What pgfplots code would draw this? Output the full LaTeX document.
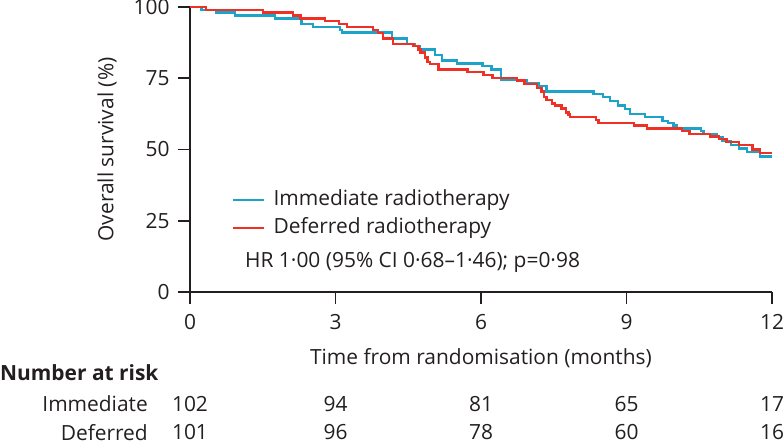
\documentclass[border=0pt]{standalone}
\usepackage{pgfplots}
\pgfplotsset{compat=1.18}
\usepackage{fontspec}
\setmainfont{Open Sans}
\definecolor{immblue}{HTML}{1BA3C9}
\definecolor{defred}{HTML}{EE3124}
\definecolor{axgray}{HTML}{231F20}
\newcommand{\fs}{\fontsize{21}{24}\selectfont}
\begin{document}
\begin{tikzpicture}
\useasboundingbox (-190bp,-153bp) rectangle (594bp,292bp);
\begin{axis}[
  at={(0,0)}, anchor=south west,
  scale only axis, width=582bp, height=285bp,
  xmin=0, xmax=12, ymin=0, ymax=100,
  axis lines=left, axis line style={-, line width=1.8bp, color=axgray},
  xtick={0,3,6,9,12}, ytick={0,25,50,75,100},
  tick align=outside, major tick length=12bp,
  tick style={line width=1.8bp, color=axgray},
  clip=false,
  /pgf/number format/assume math mode=true,
  ticklabel style={font=\fs, text=axgray},
  xticklabel style={yshift=-7bp},
  yticklabel style={xshift=-5bp},
  xlabel={Time from randomisation (months)},
  ylabel={Overall survival (\%)},
  label style={font=\fs, text=axgray},
  xlabel style={at={(axis description cs:0.5,-0.232)}, anchor=center},
  ylabel style={at={(axis description cs:-0.1426,0.5)}, anchor=center},
  legend cell align=left,
  legend style={draw=none, fill=none, at={(0.0722,0.2737)}, anchor=west,
    inner sep=0pt, column sep=8bp, row sep=9bp,
    nodes={inner sep=0pt, text height=15bp, text depth=4bp, font=\fs, text=axgray}},
  legend image code/.code={\draw[#1] (0bp,0bp) -- (31bp,0bp);},
]
\addplot[const plot, color=immblue, line width=2.4bp] coordinates {
(0,100) (0.24,99) (0.55,98) (0.93,97) (1.75,96) (2.30,94) (2.53,93) (3.09,92) (3.14,91)
(4.16,89) (4.47,87) (4.64,86.3) (4.74,85.1) (5.05,83.2) (5.19,81.2) (5.5,80.2)
(6.03,79.3) (6.22,78.1) (6.41,74.4) (6.95,73.2) (7.2,72.3) (7.35,70.3) (8.32,69.5)
(8.52,68.5) (8.66,67.1) (8.83,65.4) (8.97,64.2) (9.07,62.5) (9.38,61.3) (9.74,60.1)
(9.86,59.4) (9.97,58.4) (10.03,57.4) (10.53,56.5) (10.59,55.4) (10.86,54.3)
(10.98,53.0) (11.15,51.6) (11.32,50.4) (11.48,49.2) (11.75,47.5) (12,47.5)
};
\addlegendentry{Immediate radiotherapy}
\addplot[const plot, color=defred, line width=2.4bp] coordinates {
(0,100) (0.33,99) (1.5,98) (2.12,97) (2.28,96) (2.78,95) (3.07,94) (3.24,93) (3.77,92)
(3.88,90.8) (3.98,89) (4.18,87) (4.61,86.3) (4.71,85.1) (4.75,84.1) (4.85,82.3)
(4.9,80.8) (4.95,80) (5.12,78.1) (5.72,77.1) (6.05,76.1) (6.24,75.1) (6.74,74.2)
(6.9,73.0) (7.15,71.5) (7.25,70.3) (7.3,68.5) (7.35,67.4) (7.46,66.2) (7.53,65.4)
(7.66,64.4) (7.75,63) (7.8,62.3) (7.84,61.3) (8.37,60.4) (8.42,59.4) (9.15,58.4)
(9.42,57.3) (10.14,56.5) (10.3,55.4) (10.72,54.5) (10.91,53.7) (11.06,52.7)
(11.32,51.6) (11.6,50.0) (11.75,48.7) (12,48.7)
};
\addlegendentry{Deferred radiotherapy}
\node[anchor=west, font=\fs, text=axgray, inner sep=0pt] at (rel axis cs:0.0945,0.105) {HR 1·00 (95\% CI 0·68–1·46); p=0·98};
\end{axis}
\node[anchor=west, font=\fs\bfseries, text=axgray, inner sep=0pt] at (-190bp,-81bp) {Number at risk};
\node[anchor=east, font=\fs, text=axgray, inner sep=0pt] at (-42bp,-112bp) {Immediate};
\node[anchor=east, font=\fs, text=axgray, inner sep=0pt] at (-42bp,-140.5bp) {Deferred};
\foreach \x/\a/\b in {0/102/101, 145.5/94/96, 291/81/78, 436.5/65/60, 582/17/16} {
  \node[anchor=center, font=\fs, text=axgray, inner sep=0pt] at (\x bp,-112bp) {\a};
  \node[anchor=center, font=\fs, text=axgray, inner sep=0pt] at (\x bp,-140.5bp) {\b};
}
\end{tikzpicture}
\end{document}
